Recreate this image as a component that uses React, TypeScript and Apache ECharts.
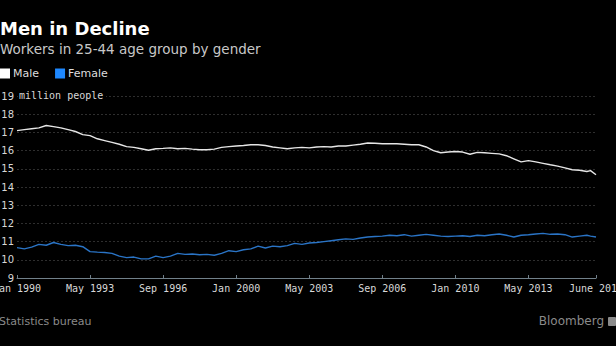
import React, { useEffect, useRef } from "react";
import * as echarts from "echarts";

// Month index: 0 = Jan 1990
const tickMonths = [0, 40, 80, 120, 160, 200, 240, 280, 317];
const tickLabels = ["Jan 1990", "May 1993", "Sep 1996", "Jan 2000", "May 2003", "Sep 2006", "Jan 2010", "May 2013", "June 2016"];

const months = [
  0, 4, 8, 12, 16, 20, 24, 28, 32, 36, 40, 44, 48, 52, 56, 60, 64, 68, 72, 76,
  80, 84, 88, 92, 96, 100, 104, 108, 112, 116, 120, 124, 128, 132, 136, 140, 144, 148, 152, 156,
  160, 164, 168, 172, 176, 180, 184, 188, 192, 196, 200, 204, 208, 212, 216, 220, 224, 228, 232, 236,
  240, 244, 248, 252, 256, 260, 264, 268, 272, 276, 280, 284, 288, 292, 296, 300, 304, 308, 312, 314, 317,
];

const maleValues = [
  17.1, 17.15, 17.2, 17.25, 17.38, 17.32, 17.25, 17.15, 17.05, 16.88, 16.82, 16.65, 16.55, 16.45, 16.35, 16.22, 16.18, 16.1, 16.02, 16.1,
  16.12, 16.15, 16.1, 16.12, 16.08, 16.05, 16.05, 16.08, 16.18, 16.22, 16.25, 16.28, 16.32, 16.32, 16.28, 16.2, 16.15, 16.1, 16.15, 16.18,
  16.15, 16.2, 16.22, 16.2, 16.25, 16.25, 16.3, 16.35, 16.42, 16.4, 16.38, 16.38, 16.38, 16.35, 16.32, 16.32, 16.2, 16.0, 15.88, 15.92,
  15.95, 15.92, 15.8, 15.9, 15.88, 15.85, 15.82, 15.72, 15.55, 15.38, 15.45, 15.38, 15.3, 15.22, 15.15, 15.05, 14.95, 14.92, 14.85, 14.9, 14.67,
];

const femaleValues = [
  10.67, 10.6, 10.7, 10.85, 10.8, 10.95, 10.85, 10.78, 10.8, 10.72, 10.45, 10.42, 10.4, 10.35, 10.2, 10.12, 10.15, 10.05, 10.05, 10.2,
  10.12, 10.2, 10.35, 10.3, 10.32, 10.28, 10.3, 10.25, 10.35, 10.5, 10.45, 10.55, 10.6, 10.75, 10.65, 10.75, 10.72, 10.78, 10.9, 10.85,
  10.92, 10.95, 11.0, 11.05, 11.1, 11.15, 11.12, 11.2, 11.25, 11.28, 11.3, 11.35, 11.32, 11.38, 11.3, 11.35, 11.4, 11.35, 11.3, 11.28,
  11.3, 11.32, 11.28, 11.35, 11.32, 11.38, 11.42, 11.35, 11.25, 11.35, 11.38, 11.42, 11.45, 11.4, 11.42, 11.38, 11.25, 11.3, 11.35, 11.3, 11.25,
];

const MONO = "'DejaVu Sans Mono', monospace";
const SANS = "'DejaVu Sans', sans-serif";

export default function App() {
  const ref = useRef<HTMLDivElement>(null);

  useEffect(() => {
    document.body.style.margin = "0";
    document.body.style.background = "#000";
    const chart = echarts.init(ref.current!, null, { renderer: "svg" });
    const male = months.map((m, i) => [m, maleValues[i]]);
    const female = months.map((m, i) => [m, femaleValues[i]]);
    chart.setOption({
      animation: false,
      backgroundColor: "#000",
      grid: { left: 17, right: 20, top: 96, bottom: 68, containLabel: false, outerBoundsMode: "none" },
      legend: {
        left: 0,
        top: 68,
        padding: 0,
        itemWidth: 10,
        itemHeight: 10,
        itemGap: 16,
        icon: "rect",
        textStyle: { color: "#dddddd", fontSize: 11, fontFamily: SANS, padding: [0, 0, 0, -2] },
        data: [
          { name: "Male", itemStyle: { color: "#ffffff" } },
          { name: "Female", itemStyle: { color: "#1e88ff" } },
        ],
      },
      xAxis: {
        type: "value",
        min: 0,
        max: 317,
        axisLine: { show: true, lineStyle: { color: "#71808a", width: 1 } },
        axisTick: { show: true, inside: true, length: 3, customValues: tickMonths, lineStyle: { color: "#71808a" } },
        axisLabel: {
          customValues: tickMonths,
          color: "#d8d8d8",
          fontFamily: MONO,
          fontSize: 10,
          margin: 5,
          hideOverlap: false,
          alignMinLabel: "center",
          alignMaxLabel: "center",
          formatter: (v: number) => {
            const i = tickMonths.indexOf(Math.round(v));
            return i >= 0 ? tickLabels[i] : "";
          },
        },
        splitLine: { show: false },
      },
      yAxis: {
        type: "value",
        min: 9,
        max: 19,
        interval: 1,
        axisLine: { show: false },
        axisTick: { show: false },
        axisLabel: { color: "#d8d8d8", fontFamily: SANS, fontSize: 10, margin: 3 },
        splitLine: { show: true, lineStyle: { color: "#2e2e2e", type: [2, 2], width: 1 } },
      },
      series: [
        {
          name: "Male",
          type: "line",
          data: male,
          showSymbol: false,
          lineStyle: { color: "#e6e6e6", width: 1.4 },
          itemStyle: { color: "#ffffff" },
        },
        {
          name: "Female",
          type: "line",
          data: female,
          showSymbol: false,
          lineStyle: { color: "#2a74c6", width: 1.4 },
          itemStyle: { color: "#1e88ff" },
        },
      ],
      graphic: [
        {
          type: "text",
          left: 0,
          top: 19,
          style: { text: "Men in Decline", fill: "#ffffff", font: `bold 18px ${SANS}` },
        },
        {
          type: "text",
          left: 0,
          top: 42,
          style: { text: "Workers in 25-44 age group by gender", fill: "#c8c8c8", font: `13.5px ${SANS}` },
        },
        {
          type: "rect",
          left: 18,
          top: 90,
          z: 10,
          shape: { width: 88, height: 12 },
          style: { fill: "#000000" },
        },
        {
          type: "text",
          left: 19,
          top: 90,
          z: 11,
          style: { text: "million people", fill: "#d8d8d8", font: `10px ${MONO}` },
        },
        {
          type: "text",
          left: -1,
          top: 316,
          style: { text: "Statistics bureau", fill: "#8a8a8a", font: `11px ${SANS}` },
        },
        {
          type: "text",
          right: 12,
          top: 315,
          style: { text: "Bloomberg", fill: "#8a8a8a", font: `12px ${SANS}` },
        },
        {
          type: "rect",
          left: 608,
          top: 317,
          shape: { width: 8, height: 9, r: 1 },
          style: { fill: "#8a8a8a" },
        },
      ],
    });
    return () => chart.dispose();
  }, []);

  return <div ref={ref} style={{ width: 616, height: 346, background: "#000" }} />;
}
